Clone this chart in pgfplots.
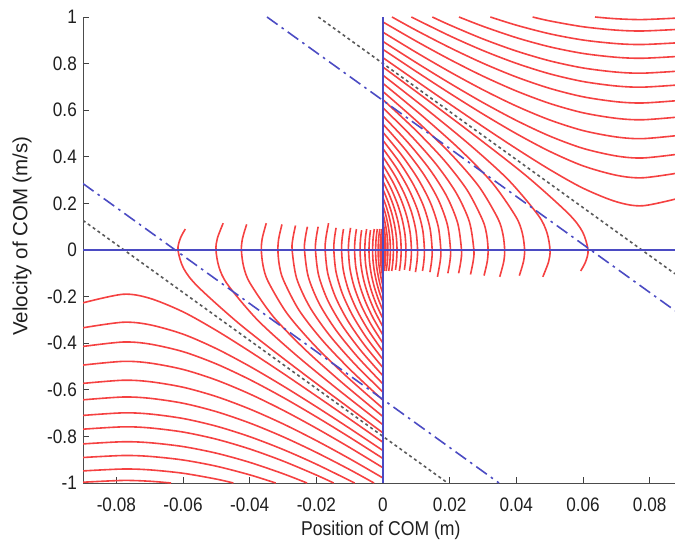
\documentclass[border=0pt]{standalone}
\usepackage{pgfplots}
\pgfplotsset{compat=1.18}
\usepackage{fontspec}
\setmainfont{Liberation Sans}[FakeStretch=0.88]
\newfontfamily\ylfont{Liberation Sans}
\usetikzlibrary{calc}
\definecolor{cr}{RGB}{245,65,65}
\definecolor{cb}{RGB}{75,75,195}
\begin{document}
\begin{tikzpicture}
\begin{axis}[
  scale only axis, width=592pt, height=466pt,
  xmin=-0.09, xmax=0.0876, ymin=-1, ymax=1,
  axis x line*=bottom, axis y line*=left,
  tick align=inside, major tick length=6pt,
  xtick={-0.08,-0.06,-0.04,-0.02,0,0.02,0.04,0.06,0.08},
  xticklabels={-0.08,-0.06,-0.04,-0.02,0,0.02,0.04,0.06,0.08},
  ytick={-1,-0.8,-0.6,-0.4,-0.2,0,0.2,0.4,0.6,0.8,1},
  yticklabels={-1,-0.8,-0.6,-0.4,-0.2,0,0.2,0.4,0.6,0.8,1},
  scaled x ticks=false, scaled y ticks=false,
  axis line style={draw=black!70, line width=0.9pt},
  tick style={draw=black!75, line width=0.9pt},
  every tick label/.append style={font=\fontsize{19.5}{22}\selectfont, text=black!88},
  xticklabel style={inner sep=0pt, anchor=center, yshift=-22pt},
  yticklabel style={inner sep=0pt, anchor=east, xshift=-6pt},
  xlabel={Position of COM (m)},
  xlabel style={at={(axis description cs:0.503,-0.1025)}, anchor=center, font=\fontsize{20}{22}\selectfont, text=black!88},
  ylabel={Velocity of COM (m/s)},
  ylabel style={at={(axis description cs:-0.1030,0.53)}, anchor=center, font=\ylfont\fontsize{20.5}{22}\selectfont, text=black!88},
  rc/.style={cr, line width=1.6pt, smooth, no marks},
]
\coordinate (SW) at (rel axis cs:0,0);
\coordinate (NE) at (rel axis cs:1,1);
% ---- right half: curves turning back (v0 at x=0)
\addplot[rc] coordinates {(0,0.785)(0.01482,0.628)(0.02938,0.471)(0.04334,0.314)(0.05555,0.157)(0.05984,0.0785)(0.0615,0)(0.0608,-0.05)(0.0593,-0.09)};
\addplot[rc] coordinates {(0,0.75)(0.01339,0.6)(0.02615,0.45)(0.03767,0.3)(0.04653,0.15)(0.04917,0.075)(0.05011,0)(0.04969,-0.05)(0.04795,-0.115)};
\addplot[rc] coordinates {(0,0.715)(0.01206,0.572)(0.02325,0.429)(0.03291,0.286)(0.03986,0.143)(0.04181,0.0715)(0.04248,0)(0.04214,-0.05)(0.0409,-0.11)};
\addplot[rc] coordinates {(0,0.68)(0.01082,0.544)(0.02062,0.408)(0.0288,0.272)(0.03444,0.136)(0.03597,0.068)(0.0365,0)(0.03622,-0.05)(0.03502,-0.115)};
\addplot[rc] coordinates {(0,0.645)(0.00966,0.516)(0.01823,0.387)(0.0252,0.258)(0.02987,0.129)(0.03111,0.0645)(0.03153,0)(0.03127,-0.05)(0.03031,-0.11)};
\addplot[rc] coordinates {(0,0.61)(0.00857,0.488)(0.01605,0.366)(0.022,0.244)(0.0259,0.122)(0.02726,0)(0.02703,-0.05)(0.02625,-0.105)};
\addplot[rc] coordinates {(0,0.575)(0.00756,0.46)(0.01406,0.345)(0.01914,0.23)(0.02241,0.115)(0.02355,0)(0.02333,-0.05)(0.02268,-0.1)};
\addplot[rc] coordinates {(0,0.54)(0.00663,0.432)(0.01225,0.324)(0.01658,0.216)(0.01932,0.108)(0.02026,0)(0.02006,-0.05)(0.01945,-0.1)};
\addplot[rc] coordinates {(0,0.505)(0.00576,0.404)(0.01059,0.303)(0.01425,0.202)(0.01656,0.101)(0.01735,0)(0.01715,-0.05)(0.01633,-0.115)};
\addplot[rc] coordinates {(0,0.47)(0.00497,0.376)(0.00908,0.282)(0.01217,0.188)(0.01409,0.094)(0.01475,0)(0.01456,-0.05)(0.01408,-0.095)};
\addplot[rc] coordinates {(0,0.435)(0.00424,0.348)(0.00771,0.261)(0.0103,0.174)(0.0119,0.087)(0.01243,0)(0.01225,-0.05)(0.01185,-0.09)};
\addplot[rc] coordinates {(0,0.4)(0.00356,0.32)(0.00646,0.24)(0.0086,0.16)(0.00992,0.08)(0.01037,0)(0.01019,-0.05)(0.00973,-0.095)};
\addplot[rc] coordinates {(0,0.365)(0.00296,0.292)(0.00534,0.219)(0.00709,0.146)(0.00816,0.073)(0.00853,0)(0.00835,-0.05)(0.00797,-0.09)};
\addplot[rc] coordinates {(0,0.33)(0.00241,0.264)(0.00433,0.198)(0.00574,0.132)(0.0066,0.066)(0.00689,0)(0.00672,-0.05)(0.00641,-0.085)};
\addplot[rc] coordinates {(0,0.295)(0.00192,0.236)(0.00344,0.177)(0.00455,0.118)(0.00523,0.059)(0.00545,0)(0.00529,-0.05)(0.00492,-0.09)};
\addplot[rc] coordinates {(0,0.26)(0.00148,0.208)(0.00266,0.156)(0.00351,0.104)(0.00403,0.052)(0.0042,0)(0.00404,-0.05)(0.00374,-0.085)};
\addplot[rc] coordinates {(0,0.225)(0.00111,0.18)(0.00198,0.135)(0.00261,0.09)(0.003,0.045)(0.00312,0)(0.00297,-0.05)(0.00261,-0.09)};
\addplot[rc] coordinates {(0,0.19)(0.0008,0.152)(0.00141,0.114)(0.00186,0.076)(0.00213,0.038)(0.00222,0)(0.00206,-0.05)(0.00171,-0.09)};
\addplot[rc] coordinates {(0,0.155)(0.00052,0.124)(0.00093,0.093)(0.00123,0.062)(0.00141,0.031)(0.00147,0)(0.00131,-0.05)(0.00096,-0.09)};
\addplot[rc] coordinates {(0,0.12)(0.00031,0.096)(0.00056,0.072)(0.00073,0.048)(0.00084,0.024)(0.00087,0)(0.00072,-0.05)(0.00038,-0.09)};
\addplot[rc] coordinates {(0,0.09)(0.00018,0.072)(0.00031,0.054)(0.00041,0.036)(0.00047,0.018)(0.00049,0)(0.00041,-0.036)(0.00031,-0.054)(0.00018,-0.072)(0,-0.09)};
\addplot[rc] coordinates {(0,0.06)(0.00012,0.04)(0.00022,0)(0.00012,-0.04)(0,-0.06)};
\addplot[rc] coordinates {(0,0.03)(0.00005,0)(0,-0.03)};
% ---- right half: curves passing over
\addplot[rc] coordinates {(0,0.8252)(0.01,0.7254)(0.02,0.6267)(0.03,0.5294)(0.04,0.435)(0.05,0.3453)(0.06,0.2653)(0.07,0.2071)(0.078,0.19)(0.09,0.2267)};
\addplot[rc] coordinates {(0,0.8608)(0.01,0.7656)(0.02,0.6728)(0.03,0.5834)(0.04,0.4992)(0.05,0.4233)(0.06,0.3611)(0.07,0.3208)(0.078,0.31)(0.09,0.3338)};
\addplot[rc] coordinates {(0,0.8949)(0.01,0.8038)(0.02,0.716)(0.03,0.6326)(0.04,0.556)(0.05,0.489)(0.06,0.4362)(0.07,0.4035)(0.078,0.395)(0.09,0.4139)};
\addplot[rc] coordinates {(0,0.9346)(0.01,0.8477)(0.02,0.7649)(0.03,0.6875)(0.04,0.6177)(0.05,0.5582)(0.06,0.5126)(0.07,0.4851)(0.078,0.478)(0.09,0.4938)};
\addplot[rc] coordinates {(0,0.9785)(0.01,0.8959)(0.02,0.818)(0.03,0.7461)(0.04,0.6824)(0.05,0.629)(0.06,0.5889)(0.07,0.5651)(0.078,0.559)(0.09,0.5725)};
\addplot[rc] coordinates {(0.0027,1)(0.01,0.9425)(0.02,0.8688)(0.03,0.8015)(0.04,0.7425)(0.05,0.6938)(0.06,0.6576)(0.07,0.6364)(0.078,0.631)(0.09,0.643)};
\addplot[rc] coordinates {(0.0085,1)(0.02,0.9193)(0.03,0.856)(0.04,0.8011)(0.05,0.7561)(0.06,0.7231)(0.07,0.7038)(0.078,0.699)(0.09,0.7099)};
\addplot[rc] coordinates {(0.0148,1)(0.02,0.9658)(0.03,0.9057)(0.04,0.8539)(0.05,0.8119)(0.06,0.7813)(0.07,0.7635)(0.078,0.759)(0.09,0.769)};
\addplot[rc] coordinates {(0.0228,1)(0.03,0.96)(0.04,0.9113)(0.05,0.872)(0.06,0.8436)(0.07,0.8271)(0.078,0.823)(0.09,0.8322)};
\addplot[rc] coordinates {(0.0322,1)(0.04,0.9649)(0.05,0.9279)(0.06,0.9012)(0.07,0.8858)(0.078,0.882)(0.09,0.8906)};
\addplot[rc] coordinates {(0.0449,1)(0.05,0.9832)(0.06,0.9581)(0.07,0.9436)(0.078,0.94)(0.09,0.9481)};
\addplot[rc] coordinates {(0.0636,1)(0.07,0.9924)(0.078,0.989)(0.09,0.9967)};
% ---- left half: curves turning back
\addplot[rc] coordinates {(0,-0.785)(-0.01482,-0.628)(-0.02938,-0.471)(-0.04334,-0.314)(-0.05555,-0.157)(-0.05984,-0.0785)(-0.0615,0)(-0.0608,0.05)(-0.0593,0.09)};
\addplot[rc] coordinates {(0,-0.75)(-0.01339,-0.6)(-0.02615,-0.45)(-0.03767,-0.3)(-0.04653,-0.15)(-0.04917,-0.075)(-0.05011,0)(-0.04969,0.05)(-0.04795,0.115)};
\addplot[rc] coordinates {(0,-0.715)(-0.01206,-0.572)(-0.02325,-0.429)(-0.03291,-0.286)(-0.03986,-0.143)(-0.04181,-0.0715)(-0.04248,0)(-0.04214,0.05)(-0.0409,0.11)};
\addplot[rc] coordinates {(0,-0.68)(-0.01082,-0.544)(-0.02062,-0.408)(-0.0288,-0.272)(-0.03444,-0.136)(-0.03597,-0.068)(-0.0365,0)(-0.03622,0.05)(-0.03502,0.115)};
\addplot[rc] coordinates {(0,-0.645)(-0.00966,-0.516)(-0.01823,-0.387)(-0.0252,-0.258)(-0.02987,-0.129)(-0.03111,-0.0645)(-0.03153,0)(-0.03127,0.05)(-0.03031,0.11)};
\addplot[rc] coordinates {(0,-0.61)(-0.00857,-0.488)(-0.01605,-0.366)(-0.022,-0.244)(-0.0259,-0.122)(-0.02726,0)(-0.02703,0.05)(-0.02625,0.105)};
\addplot[rc] coordinates {(0,-0.575)(-0.00756,-0.46)(-0.01406,-0.345)(-0.01914,-0.23)(-0.02241,-0.115)(-0.02355,0)(-0.02333,0.05)(-0.02268,0.1)};
\addplot[rc] coordinates {(0,-0.54)(-0.00663,-0.432)(-0.01225,-0.324)(-0.01658,-0.216)(-0.01932,-0.108)(-0.02026,0)(-0.02006,0.05)(-0.01945,0.1)};
\addplot[rc] coordinates {(0,-0.505)(-0.00576,-0.404)(-0.01059,-0.303)(-0.01425,-0.202)(-0.01656,-0.101)(-0.01735,0)(-0.01715,0.05)(-0.01633,0.115)};
\addplot[rc] coordinates {(0,-0.47)(-0.00497,-0.376)(-0.00908,-0.282)(-0.01217,-0.188)(-0.01409,-0.094)(-0.01475,0)(-0.01456,0.05)(-0.01408,0.095)};
\addplot[rc] coordinates {(0,-0.435)(-0.00424,-0.348)(-0.00771,-0.261)(-0.0103,-0.174)(-0.0119,-0.087)(-0.01243,0)(-0.01225,0.05)(-0.01185,0.09)};
\addplot[rc] coordinates {(0,-0.4)(-0.00356,-0.32)(-0.00646,-0.24)(-0.0086,-0.16)(-0.00992,-0.08)(-0.01037,0)(-0.01019,0.05)(-0.00973,0.095)};
\addplot[rc] coordinates {(0,-0.365)(-0.00296,-0.292)(-0.00534,-0.219)(-0.00709,-0.146)(-0.00816,-0.073)(-0.00853,0)(-0.00835,0.05)(-0.00797,0.09)};
\addplot[rc] coordinates {(0,-0.33)(-0.00241,-0.264)(-0.00433,-0.198)(-0.00574,-0.132)(-0.0066,-0.066)(-0.00689,0)(-0.00672,0.05)(-0.00641,0.085)};
\addplot[rc] coordinates {(0,-0.295)(-0.00192,-0.236)(-0.00344,-0.177)(-0.00455,-0.118)(-0.00523,-0.059)(-0.00545,0)(-0.00529,0.05)(-0.00492,0.09)};
\addplot[rc] coordinates {(0,-0.26)(-0.00148,-0.208)(-0.00266,-0.156)(-0.00351,-0.104)(-0.00403,-0.052)(-0.0042,0)(-0.00404,0.05)(-0.00374,0.085)};
\addplot[rc] coordinates {(0,-0.225)(-0.00111,-0.18)(-0.00198,-0.135)(-0.00261,-0.09)(-0.003,-0.045)(-0.00312,0)(-0.00297,0.05)(-0.00261,0.09)};
\addplot[rc] coordinates {(0,-0.19)(-0.0008,-0.152)(-0.00141,-0.114)(-0.00186,-0.076)(-0.00213,-0.038)(-0.00222,0)(-0.00206,0.05)(-0.00171,0.09)};
\addplot[rc] coordinates {(0,-0.155)(-0.00052,-0.124)(-0.00093,-0.093)(-0.00123,-0.062)(-0.00141,-0.031)(-0.00147,0)(-0.00131,0.05)(-0.00096,0.09)};
\addplot[rc] coordinates {(0,-0.12)(-0.00031,-0.096)(-0.00056,-0.072)(-0.00073,-0.048)(-0.00084,-0.024)(-0.00087,0)(-0.00072,0.05)(-0.00038,0.09)};
\addplot[rc] coordinates {(0,-0.09)(-0.00018,-0.072)(-0.00031,-0.054)(-0.00041,-0.036)(-0.00047,-0.018)(-0.00049,0)(-0.00041,0.036)(-0.00031,0.054)(-0.00018,0.072)(0,0.09)};
\addplot[rc] coordinates {(0,-0.06)(-0.00012,-0.04)(-0.00022,0)(-0.00012,0.04)(0,0.06)};
\addplot[rc] coordinates {(0,-0.03)(-0.00005,0)(0,0.03)};
% ---- left half: curves passing under
\addplot[rc] coordinates {(0,-0.8252)(-0.01,-0.7254)(-0.02,-0.6267)(-0.03,-0.5294)(-0.04,-0.435)(-0.05,-0.3453)(-0.06,-0.2653)(-0.07,-0.2071)(-0.078,-0.19)(-0.09,-0.2267)};
\addplot[rc] coordinates {(0,-0.8608)(-0.01,-0.7656)(-0.02,-0.6728)(-0.03,-0.5834)(-0.04,-0.4992)(-0.05,-0.4233)(-0.06,-0.3611)(-0.07,-0.3208)(-0.078,-0.31)(-0.09,-0.3338)};
\addplot[rc] coordinates {(0,-0.8949)(-0.01,-0.8038)(-0.02,-0.716)(-0.03,-0.6326)(-0.04,-0.556)(-0.05,-0.489)(-0.06,-0.4362)(-0.07,-0.4035)(-0.078,-0.395)(-0.09,-0.4139)};
\addplot[rc] coordinates {(0,-0.9346)(-0.01,-0.8477)(-0.02,-0.7649)(-0.03,-0.6875)(-0.04,-0.6177)(-0.05,-0.5582)(-0.06,-0.5126)(-0.07,-0.4851)(-0.078,-0.478)(-0.09,-0.4938)};
\addplot[rc] coordinates {(0,-0.9785)(-0.01,-0.8959)(-0.02,-0.818)(-0.03,-0.7461)(-0.04,-0.6824)(-0.05,-0.629)(-0.06,-0.5889)(-0.07,-0.5651)(-0.078,-0.559)(-0.09,-0.5725)};
\addplot[rc] coordinates {(-0.0027,-1)(-0.01,-0.9425)(-0.02,-0.8688)(-0.03,-0.8015)(-0.04,-0.7425)(-0.05,-0.6938)(-0.06,-0.6576)(-0.07,-0.6364)(-0.078,-0.631)(-0.09,-0.643)};
\addplot[rc] coordinates {(-0.0085,-1)(-0.02,-0.9193)(-0.03,-0.856)(-0.04,-0.8011)(-0.05,-0.7561)(-0.06,-0.7231)(-0.07,-0.7038)(-0.078,-0.699)(-0.09,-0.7099)};
\addplot[rc] coordinates {(-0.0148,-1)(-0.02,-0.9658)(-0.03,-0.9057)(-0.04,-0.8539)(-0.05,-0.8119)(-0.06,-0.7813)(-0.07,-0.7635)(-0.078,-0.759)(-0.09,-0.769)};
\addplot[rc] coordinates {(-0.0228,-1)(-0.03,-0.96)(-0.04,-0.9113)(-0.05,-0.872)(-0.06,-0.8436)(-0.07,-0.8271)(-0.078,-0.823)(-0.09,-0.8322)};
\addplot[rc] coordinates {(-0.0322,-1)(-0.04,-0.9649)(-0.05,-0.9279)(-0.06,-0.9012)(-0.07,-0.8858)(-0.078,-0.882)(-0.09,-0.8906)};
\addplot[rc] coordinates {(-0.0449,-1)(-0.05,-0.9832)(-0.06,-0.9581)(-0.07,-0.9436)(-0.078,-0.94)(-0.09,-0.9481)};
\addplot[rc] coordinates {(-0.0636,-1)(-0.07,-0.9924)(-0.078,-0.989)(-0.09,-0.9967)};
% ---- guide lines
\addplot[black!65, line width=1.6pt, dash pattern=on 3pt off 3pt] coordinates {(-0.0194,1)(0.0876,-0.1023)};
\addplot[black!65, line width=1.6pt, dash pattern=on 3pt off 3pt] coordinates {(-0.09,0.127)(0.0194,-1)};
\addplot[cb, line width=1.6pt, dash pattern=on 13pt off 5pt on 2.5pt off 5pt] coordinates {(-0.0348,1)(0.0876,-0.2603)};
\addplot[cb, line width=1.6pt, dash pattern=on 13pt off 5pt on 2.5pt off 5pt] coordinates {(-0.09,0.285)(0.0348,-1)};
\addplot[cb, line width=1.5pt] coordinates {(0,-1)(0,1)};
\addplot[cb, line width=1.5pt] coordinates {(-0.09,0)(0.0876,0)};
\end{axis}
\pgfresetboundingbox
\path ($(SW)+(-83pt,-62pt)$) rectangle ($(NE)+(0pt,17pt)$);
\end{tikzpicture}
\end{document}
